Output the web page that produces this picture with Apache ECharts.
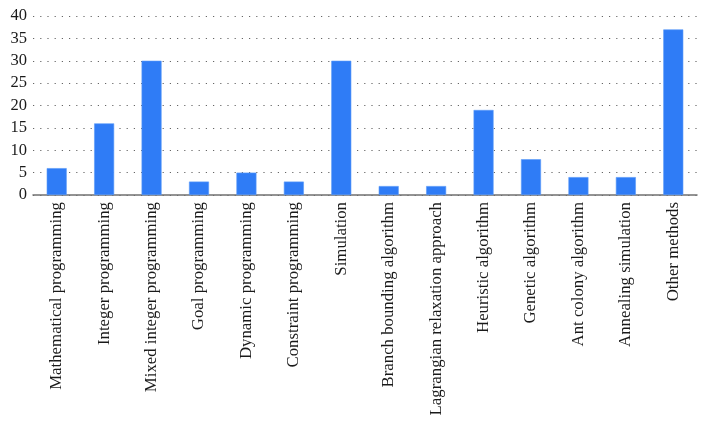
<!DOCTYPE html>
<html><head><meta charset="utf-8">
<script src="https://cdn.jsdelivr.net/npm/echarts@6/dist/echarts.min.js"></script>
<style>html,body{margin:0;padding:0;background:#fff}#c{width:708px;height:423px}</style>
</head><body><div id="c"></div>
<script>
const categories = ["Mathematical programming","Integer programming","Mixed integer programming","Goal programming","Dynamic programming","Constraint programming","Simulation","Branch bounding algorithm","Lagrangian relaxation approach","Heuristic algorithm","Genetic algorithm","Ant colony algorithm","Annealing simulation","Other methods"];
const values = [6,16,30,3,5,3,30,2,2,19,8,4,4,37];
const yTicks = [0,5,10,15,20,25,30,35,40];
const font = '"Liberation Serif","DejaVu Serif",serif';
const chart = echarts.init(document.getElementById('c'));
chart.setOption({
  animation:false,
  grid:{left:33,right:11,top:16,bottom:228},
  xAxis:{type:'category',data:categories,
    axisLine:{lineStyle:{color:'#707070',width:1.5}},
    axisTick:{show:false},
    axisLabel:{rotate:90,interval:0,margin:7,fontFamily:font,fontSize:16.8,color:'#1a1a1a'}},
  yAxis:{type:'value',min:yTicks[0],max:yTicks[yTicks.length-1],interval:5,
    axisLine:{show:false},axisTick:{show:false},
    axisLabel:{fontFamily:font,fontSize:16.5,color:'#1a1a1a',margin:6},
    splitLine:{lineStyle:{color:'#666',type:[1.2,6],width:1.2}}},
  series:[{type:'bar',data:values,barWidth:20,
    itemStyle:{color:'#2f7cf6',borderColor:'#5a9af8',borderWidth:0.6}}]
});
</script></body></html>
